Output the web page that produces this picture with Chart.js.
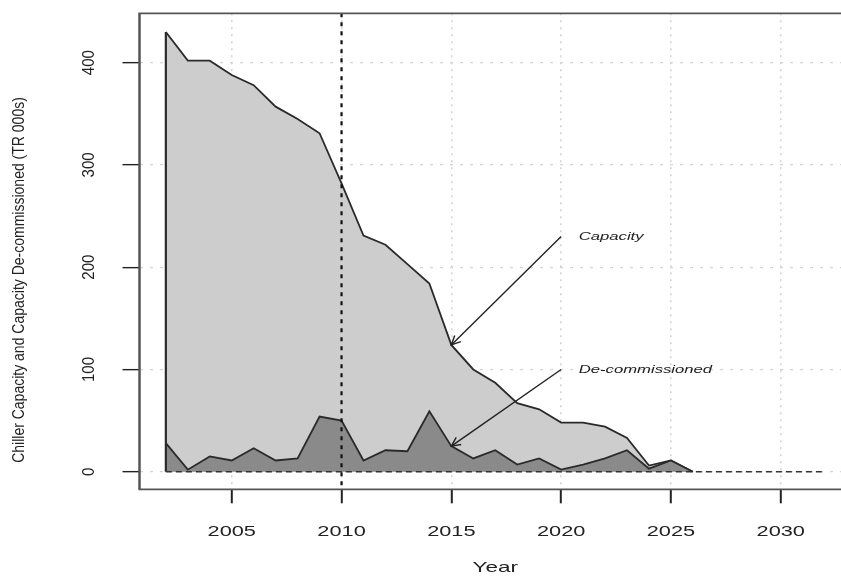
<!DOCTYPE html>
<html><head><meta charset="utf-8">
<script src="https://cdn.jsdelivr.net/npm/chart.js@4/dist/chart.umd.min.js"></script>
<style>html,body{margin:0;padding:0;overflow:hidden;background:#fff}#wrap{width:853px;height:577px}</style>
</head><body><div id="wrap"><canvas id="c" width="853" height="577"></canvas></div>
<script>
const years = [2002,2003,2004,2005,2006,2007,2008,2009,2010,2011,2012,2013,2014,2015,2016,2017,2018,2019,2020,2021,2022,2023,2024,2025,2026,2027,2028,2029,2030,2031,2032];
const capacity = [430,402,402,388,378,357,345,331,282,231,222,203,184,124,100,87,67,61,48,48,44,33,6,11,0,0,0,0,0,0,0];
const decommissioned = [28,2,15,11,23,11,13,54,50,11,21,20,59,25,13,21,7,13,2,7,13,21,3,11,0,0,0,0,0,0,0];
const xTicks = [2005,2010,2015,2020,2025,2030];
const yTicks = [0,100,200,300,400];
const xTitle = "Year";
const yTitle = "Chiller Capacity and Capacity De-commissioned (TR 000s)";
const markerYear = 2010;
const notes = [
  {text:"Capacity", tipYear:2015, series:"capacity", tailYear:2020, tailValue:230},
  {text:"De-commissioned", tipYear:2015, series:"decommissioned", tailYear:2020, tailValue:100}
];

const FONT = "'Liberation Sans', Arial, Helvetica, sans-serif";
function stretchText(ctx, txt, x, y, size, sx, rotate, italic, align){
  ctx.save();
  ctx.translate(x,y);
  ctx.scale(sx,1);
  if(rotate) ctx.rotate(-Math.PI/2);
  ctx.font = (italic?"italic ":"") + size + "px " + FONT;
  ctx.textAlign = align || "center";
  ctx.textBaseline = "middle";
  ctx.fillStyle = "#222";
  ctx.fillText(txt,0,0);
  ctx.restore();
}
const zeroSeg = c => (c.p0.parsed.y===0 && c.p1.parsed.y===0) ? 'rgba(0,0,0,0)' : undefined;

const decor = {
  id:'decor',
  afterDatasetsDraw(chart){
    const {ctx, chartArea:a, scales:{x,y}} = chart;
    ctx.save();
    const y0 = y.getPixelForValue(0);
    const x0 = x.getPixelForValue(years[0]);
    // polygon left edges
    ctx.strokeStyle = "#2a2a2a"; ctx.lineWidth = 2.2;
    ctx.beginPath(); ctx.moveTo(x0,y0); ctx.lineTo(x0,y.getPixelForValue(capacity[0])); ctx.stroke();
    // marker line
    const mx = x.getPixelForValue(markerYear);
    ctx.strokeStyle = "#111"; ctx.lineWidth = 2.2; ctx.setLineDash([4,5]);
    ctx.beginPath(); ctx.moveTo(mx,a.top); ctx.lineTo(mx,a.bottom); ctx.stroke();
    // zero baseline dashed
    ctx.strokeStyle = "#333"; ctx.lineWidth = 1.6; ctx.setLineDash([6,4]);
    ctx.beginPath(); ctx.moveTo(x0,y0); ctx.lineTo(x.getPixelForValue(years[years.length-1]),y0); ctx.stroke();
    ctx.setLineDash([]);
    // arrows & notes
    notes.forEach(n=>{
      const arr = n.series==="capacity"?capacity:decommissioned;
      const tipV = arr[years.indexOf(n.tipYear)];
      const tx = x.getPixelForValue(n.tipYear), ty = y.getPixelForValue(tipV);
      const sx = x.getPixelForValue(n.tailYear), sy = y.getPixelForValue(n.tailValue);
      ctx.strokeStyle="#222"; ctx.lineWidth=1.4;
      ctx.beginPath(); ctx.moveTo(sx,sy); ctx.lineTo(tx,ty); ctx.stroke();
      const ang = Math.atan2(ty-sy, tx-sx), L=10;
      ctx.beginPath();
      ctx.moveTo(tx - L*Math.cos(ang-0.45), ty - L*Math.sin(ang-0.45));
      ctx.lineTo(tx,ty);
      ctx.lineTo(tx - L*Math.cos(ang+0.45), ty - L*Math.sin(ang+0.45));
      ctx.stroke();
      stretchText(ctx, n.text, x.getPixelForValue(n.tailYear+0.8), sy, 11.5, 1.45, false, true, "left");
    });
    ctx.restore();
  },
  afterDraw(chart){
    const {ctx, chartArea:a, scales:{x,y}} = chart;
    ctx.save();
    ctx.strokeStyle="#555";
    ctx.lineWidth=1.8;
    ctx.beginPath(); ctx.moveTo(a.left-1,a.top); ctx.lineTo(a.right+1,a.top); ctx.moveTo(a.left-1,a.bottom); ctx.lineTo(a.right+1,a.bottom); ctx.stroke();
    ctx.lineWidth=2.5;
    ctx.beginPath(); ctx.moveTo(a.left,a.top); ctx.lineTo(a.left,a.bottom); ctx.moveTo(a.right,a.top); ctx.lineTo(a.right,a.bottom); ctx.stroke();
    // tick labels
    x.ticks.forEach(t=> stretchText(ctx, String(t.value), x.getPixelForValue(t.value), 532, 15, 1.45, false));
    y.ticks.forEach(t=> stretchText(ctx, String(t.value), 89, y.getPixelForValue(t.value), 15, 1.1, true));
    stretchText(ctx, xTitle, (a.left+a.right)/2, 568, 15, 1.5, false);
    stretchText(ctx, yTitle, 20, 280, 14, 1.15, true);
    ctx.restore();
  }
};

new Chart(document.getElementById('c'), {
  type:'line',
  data:{ datasets:[
    {label:'De-commissioned', data: years.map((yr,i)=>({x:yr,y:decommissioned[i]})), fill:'origin',
     backgroundColor:'#8a8a8a', borderColor:'#2a2a2a', borderWidth:1.8, pointRadius:0, tension:0,
     segment:{borderColor: zeroSeg}},
    {label:'Capacity', data: years.map((yr,i)=>({x:yr,y:capacity[i]})), fill:'origin',
     backgroundColor:'#cdcdcd', borderColor:'#2a2a2a', borderWidth:1.8, pointRadius:0, tension:0,
     segment:{borderColor: zeroSeg}}
  ]},
  options:{
    responsive:false, animation:false,
    layout:{padding:{top:13.3,right:2,left:0,bottom:0}},
    plugins:{legend:{display:false}, tooltip:{enabled:false}},
    scales:{
      x:{type:'linear', min:2000.8, max:2033.2, z:1,
         afterBuildTicks:s=>{s.ticks = xTicks.map(v=>({value:v}));},
         afterFit:s=>{s.height = 87.7;},
         ticks:{display:false},
         border:{display:false, dash:[2,5]},
         grid:{color:'#d4d4d4', lineWidth:1.6, tickColor:'#222', tickWidth:2, tickLength:14, tickBorderDash:[]}},
      y:{type:'linear', min:-17.2, max:448.3, z:1,
         afterBuildTicks:s=>{s.ticks = yTicks.map(v=>({value:v}));},
         afterFit:s=>{s.width = 139.5;},
         ticks:{display:false},
         border:{display:false, dash:[3,7]},
         grid:{color:'#d4d4d4', lineWidth:1.3, tickColor:'#222', tickWidth:1.4, tickLength:17, tickBorderDash:[]}}
    }
  },
  plugins:[decor]
});
</script></body></html>
